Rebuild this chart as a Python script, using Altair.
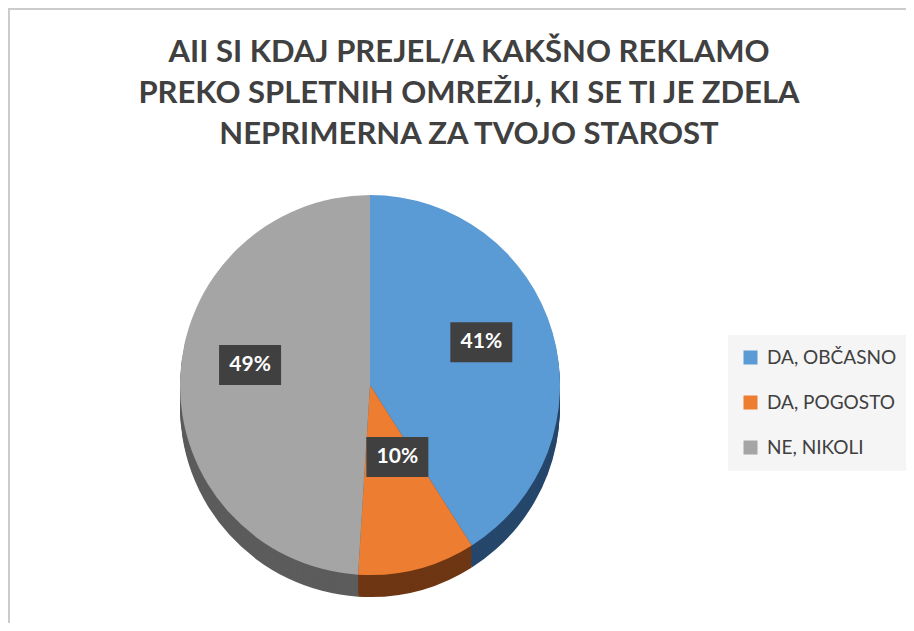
import altair as alt
import pandas as pd

categories = ["DA, OBČASNO", "DA, POGOSTO", "NE, NIKOLI"]
values = [41, 10, 49]
labels = ["41%", "10%", "49%"]
top_colors = ["#5b9bd5", "#ed7d31", "#a5a5a5"]
side_colors = ["#26476b", "#6e3613", "#5c5c5c"]
title_lines = [
    "AII SI KDAJ PREJEL/A KAKŠNO REKLAMO",
    "PREKO SPLETNIH OMREŽIJ, KI SE TI JE ZDELA",
    "NEPRIMERNA ZA TVOJO STAROST",
]

df = pd.DataFrame({
    "cat": categories,
    "value": values,
    "label": labels,
    "order": list(range(len(categories))),
    "side": side_colors,
})

W, H = 898, 615
CX, CY = 362, 377
R = 190
DEPTH = 22
LCX, LCY, LRX, LRY = 360, 360, 118, 92
FONT = "Lato"

base = alt.Chart(df)
theta = alt.Theta("value:Q", stack=True)
order = alt.Order("order:Q")

layers = []
for d in range(DEPTH, 0, -2):
    layers.append(
        base.mark_arc(outerRadius=R).encode(
            theta=theta, order=order,
            color=alt.Color("side:N", scale=None),
            x=alt.value(CX), y=alt.value(CY + d),
        )
    )

top = base.mark_arc(outerRadius=R).encode(
    theta=theta, order=order,
    color=alt.Color(
        "cat:N",
        scale=alt.Scale(domain=categories, range=top_colors),
        legend=alt.Legend(
            title=None, orient="none", legendX=720, legendY=327,
            fillColor="#f5f5f5", padding=13, symbolType="square",
            symbolSize=196, symbolStrokeWidth=0, labelFontSize=19,
            labelColor="#404040", labelFont=FONT, rowPadding=25, labelOffset=7,
        ),
    ),
    x=alt.value(CX), y=alt.value(CY),
)
layers.append(top)

lab = (
    base.transform_window(cum="sum(value)", sort=[alt.SortField("order")], frame=[None, 0])
    .transform_joinaggregate(total="sum(value)")
    .transform_calculate(
        mid="(datum.cum - datum.value/2) / datum.total * 2 * PI",
    )
    .transform_calculate(
        lx=f"{LCX} + {LRX} * sin(datum.mid)",
        ly=f"{LCY} - {LRY} * cos(datum.mid)",
    )
    .transform_calculate(
        bx1="datum.lx - 31", bx2="datum.lx + 31",
        by1="datum.ly - 20", by2="datum.ly + 20",
    )
)
box = lab.mark_rect(color="#404040").encode(
    x=alt.X("bx1:Q", scale=None, axis=None), x2="bx2:Q",
    y=alt.Y("by1:Q", scale=None, axis=None), y2="by2:Q",
)
txt = lab.mark_text(color="white", fontSize=21, fontWeight="bold", font=FONT).encode(
    x=alt.X("lx:Q", scale=None, axis=None),
    y=alt.Y("ly:Q", scale=None, axis=None),
    text="label:N",
)
layers += [box, txt]

frame_df = pd.DataFrame({"k": [0]})
left_rule = alt.Chart(frame_df).mark_rule(color="#cccccc", strokeWidth=2).encode(
    x=alt.value(1), y=alt.value(0), y2=alt.value(H)
)
top_rule = alt.Chart(frame_df).mark_rule(color="#cccccc", strokeWidth=2).encode(
    x=alt.value(0), x2=alt.value(W), y=alt.value(1)
)
layers += [left_rule, top_rule]

chart = (
    alt.layer(*layers)
    .properties(
        width=W, height=H, padding=0,
        autosize=alt.AutoSizeParams(type="none"),
        title=alt.TitleParams(
            text=title_lines, font=FONT, fontSize=31, fontWeight="bold",
            color="#404040", lineHeight=41, anchor="middle", offset=-144, dx=12,
        ),
        background="white",
    )
    .configure_view(stroke=None)
)

chart.save("out.html", embed_options={"renderer": "svg", "actions": False})
